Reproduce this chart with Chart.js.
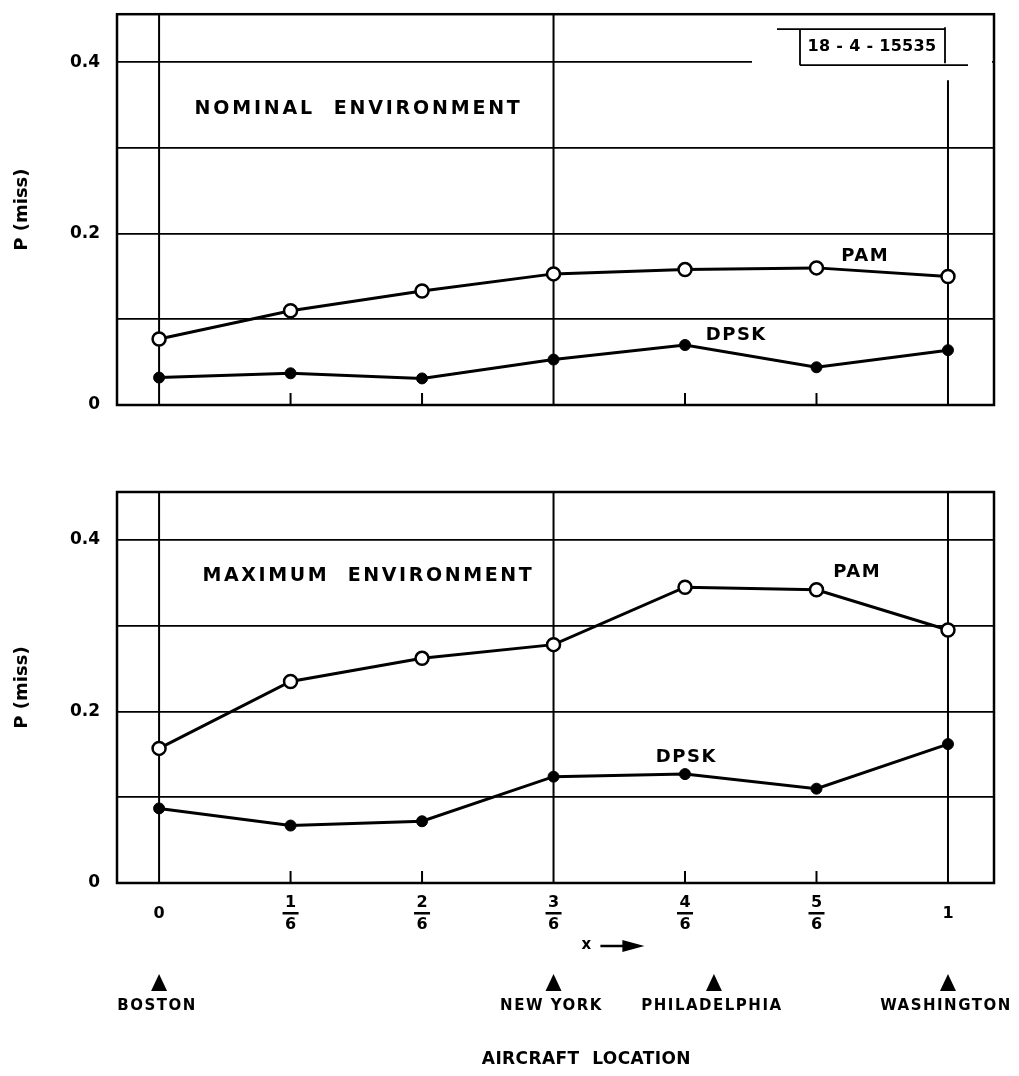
<!DOCTYPE html>
<html lang="en">
<head>
<meta charset="UTF-8">
<title>P(miss) versus aircraft location</title>
<script src="https://cdn.jsdelivr.net/npm/chart.js@4.4.1/dist/chart.umd.min.js"></script>
<style>
  body { margin: 0; background: #fff; overflow: hidden; }
  .panel { position: absolute; left: 0; width: 1019px; }
  #top { top: -13px; height: 453px; }
  #bottom { top: 440px; height: 636px; }
</style>
</head>
<body>
<div class="panel" id="top"><canvas id="topChart"></canvas></div>
<div class="panel" id="bottom"><canvas id="bottomChart"></canvas></div>
<script>
// x positions in sixths of the Boston-Washington route
const xPositions = [0, 1, 2, 3, 4, 5, 6];
const xTickLabels = ['0', '1/6', '2/6', '3/6', '4/6', '5/6', '1'];
const fullLines = [0, 3, 6];

const yTicks = [0, 0.1, 0.2, 0.3, 0.4];
const yTickLabels = ['0', '', '0.2', '', '0.4'];

const nominalPam  = [0.077, 0.110, 0.133, 0.153, 0.158, 0.160, 0.150];
const nominalDpsk = [0.032, 0.037, 0.031, 0.053, 0.070, 0.044, 0.064];
const maximumPam  = [0.157, 0.235, 0.262, 0.278, 0.345, 0.342, 0.295];
const maximumDpsk = [0.087, 0.067, 0.072, 0.124, 0.127, 0.110, 0.162];

const cityNames = ['BOSTON', 'NEW YORK', 'PHILADELPHIA', 'WASHINGTON'];
const cityPositions = [0, 3, 4.22, 6];

const FONT = '"DejaVu Sans", sans-serif';

function text(ctx, str, x, y, size, align, spacing) {
    ctx.save();
    ctx.font = 'bold ' + size + 'px ' + FONT;
    ctx.fillStyle = '#000';
    ctx.textAlign = align || 'center';
    ctx.textBaseline = 'middle';
    ctx.letterSpacing = (spacing || 0) + 'px';
    ctx.fillText(str, x, y);
    ctx.restore();
}

// frame, vertical lines and inner ticks
const framePlugin = {
    id: 'frame',
    beforeDatasetsDraw(chart, args, opts) {
        const { ctx, chartArea: a, scales: { x } } = chart;
        ctx.save();
        ctx.strokeStyle = '#000';
        ctx.lineWidth = 2;
        xPositions.forEach(v => {
            const px = x.getPixelForValue(v);
            ctx.beginPath();
            if (fullLines.includes(v)) {
                const top = (v === 6 && opts.tag) ? a.top + 66 : a.top;
                ctx.moveTo(px, top);
            } else {
                ctx.moveTo(px, a.bottom - 12);
            }
            ctx.lineTo(px, a.bottom);
            ctx.stroke();
        });
        // document number box (top panel only)
        if (opts.tag) {
            const r = a.right;
            ctx.fillStyle = '#fff';
            ctx.fillRect(r - 242, a.top + 2, 240, 54);
            ctx.lineWidth = 1.8;
            ctx.beginPath();
            ctx.moveTo(r - 217, a.top + 15); ctx.lineTo(r - 49, a.top + 15);
            ctx.moveTo(r - 194, a.top + 15); ctx.lineTo(r - 194, a.top + 51);
            ctx.moveTo(r - 49, a.top + 13); ctx.lineTo(r - 49, a.top + 49);
            ctx.moveTo(r - 194, a.top + 51); ctx.lineTo(r - 26, a.top + 51);
            ctx.stroke();
            text(ctx, opts.tag, r - 122, a.top + 33, 16, 'center', 0.3);
        }
        ctx.lineWidth = 2.5;
        ctx.strokeRect(a.left, a.top, a.right - a.left, a.bottom - a.top);
        ctx.restore();
    },
    afterDatasetsDraw(chart, args, opts) {
        const { ctx, scales: { x, y } } = chart;
        opts.labels.forEach(l => {
            text(ctx, l.text, x.getPixelForValue(l.x), y.getPixelForValue(l.y), l.size, l.align, l.spacing);
        });
    }
};

// fraction tick labels, cities and axis caption under the lower panel
const bottomAxisPlugin = {
    id: 'bottomAxis',
    afterDraw(chart) {
        const { ctx, chartArea: a, scales: { x } } = chart;
        ctx.save();
        xTickLabels.forEach((lab, i) => {
            const px = x.getPixelForValue(xPositions[i]);
            const parts = lab.split('/');
            if (parts.length === 1) {
                text(ctx, parts[0], px, a.bottom + 31, 16);
            } else {
                text(ctx, parts[0], px, a.bottom + 20, 16);
                ctx.fillRect(px - 8, a.bottom + 29, 16, 2.5);
                text(ctx, parts[1], px, a.bottom + 42, 16);
            }
        });
        // x arrow
        const ax = x.getPixelForValue(3.25);
        text(ctx, 'x', ax, a.bottom + 62, 15);
        ctx.lineWidth = 2.5;
        ctx.beginPath();
        ctx.moveTo(ax + 14, a.bottom + 63);
        ctx.lineTo(ax + 46, a.bottom + 63);
        ctx.stroke();
        ctx.beginPath();
        ctx.moveTo(ax + 58, a.bottom + 63);
        ctx.lineTo(ax + 36, a.bottom + 57);
        ctx.lineTo(ax + 36, a.bottom + 69);
        ctx.closePath();
        ctx.fill();
        // cities
        cityNames.forEach((name, i) => {
            const px = x.getPixelForValue(cityPositions[i]);
            ctx.beginPath();
            ctx.moveTo(px, a.bottom + 91);
            ctx.lineTo(px - 8, a.bottom + 108);
            ctx.lineTo(px + 8, a.bottom + 108);
            ctx.closePath();
            ctx.fill();
            text(ctx, name, px - 2, a.bottom + 123, 15, 'center', 1.5);
        });
        text(ctx, 'AIRCRAFT  LOCATION', x.getPixelForValue(3.25), a.bottom + 177, 17, 'center', 0.4);
        ctx.restore();
    }
};

function makePanel(id, pam, dpsk, cfg) {
    const points = arr => arr.map((v, i) => ({ x: xPositions[i], y: v }));
    return new Chart(document.getElementById(id), {
        type: 'line',
        data: {
            datasets: [
                {
                    label: 'PAM',
                    data: points(pam),
                    borderColor: '#000',
                    borderWidth: 3,
                    pointRadius: 6.5,
                    pointBorderWidth: 2.5,
                    pointBackgroundColor: '#fff',
                    pointBorderColor: '#000',
                    tension: 0
                },
                {
                    label: 'DPSK',
                    data: points(dpsk),
                    borderColor: '#000',
                    borderWidth: 3,
                    pointRadius: 5.5,
                    pointBorderWidth: 1,
                    pointBackgroundColor: '#000',
                    pointBorderColor: '#000',
                    tension: 0
                }
            ]
        },
        options: {
            responsive: true,
            maintainAspectRatio: false,
            animation: false,
            layout: { padding: { left: 0, right: 25, top: cfg.top, bottom: 0 } },
            scales: {
                x: {
                    type: 'linear',
                    min: -0.32,
                    max: 6.35,
                    afterBuildTicks: s => { s.ticks = xPositions.map(v => ({ value: v })); },
                    afterFit: s => { s.height = cfg.xHeight; },
                    ticks: { display: false },
                    grid: { display: false },
                    border: { display: false }
                },
                y: {
                    min: 0,
                    max: 0.456,
                    afterBuildTicks: s => { s.ticks = yTicks.map(v => ({ value: v })); },
                    afterFit: s => { s.width = 117; },
                    ticks: {
                        callback: (v, i) => yTickLabels[i],
                        color: '#000',
                        padding: 17,
                        font: { family: FONT, size: 17, weight: 'bold' }
                    },
                    grid: { color: '#000', lineWidth: 1.8, drawTicks: false },
                    border: { display: false },
                    title: {
                        display: true,
                        text: 'P (miss)',
                        color: '#000',
                        padding: { top: 12 },
                        font: { family: FONT, size: 18, weight: 'bold' }
                    }
                }
            },
            plugins: {
                legend: { display: false },
                tooltip: { enabled: false },
                frame: { tag: cfg.tag, labels: cfg.labels }
            }
        },
        plugins: cfg.extra ? [framePlugin, cfg.extra] : [framePlugin]
    });
}

makePanel('topChart', nominalPam, nominalDpsk, {
    top: 0,
    xHeight: 35,
    tag: '18 - 4 - 15535',
    labels: [
        { text: 'NOMINAL  ENVIRONMENT', x: 0.27, y: 0.345, size: 19, align: 'left', spacing: 2.8 },
        { text: 'PAM', x: 5.37, y: 0.174, size: 18, spacing: 1.5 },
        { text: 'DPSK', x: 4.39, y: 0.081, size: 18, spacing: 1.5 }
    ]
});

makePanel('bottomChart', maximumPam, maximumDpsk, {
    top: 52,
    xHeight: 193,
    labels: [
        { text: 'MAXIMUM  ENVIRONMENT', x: 0.33, y: 0.358, size: 19, align: 'left', spacing: 2.6 },
        { text: 'PAM', x: 5.31, y: 0.362, size: 18, spacing: 1.5 },
        { text: 'DPSK', x: 4.01, y: 0.146, size: 18, spacing: 1.5 }
    ],
    extra: bottomAxisPlugin
});
</script>
</body>
</html>
